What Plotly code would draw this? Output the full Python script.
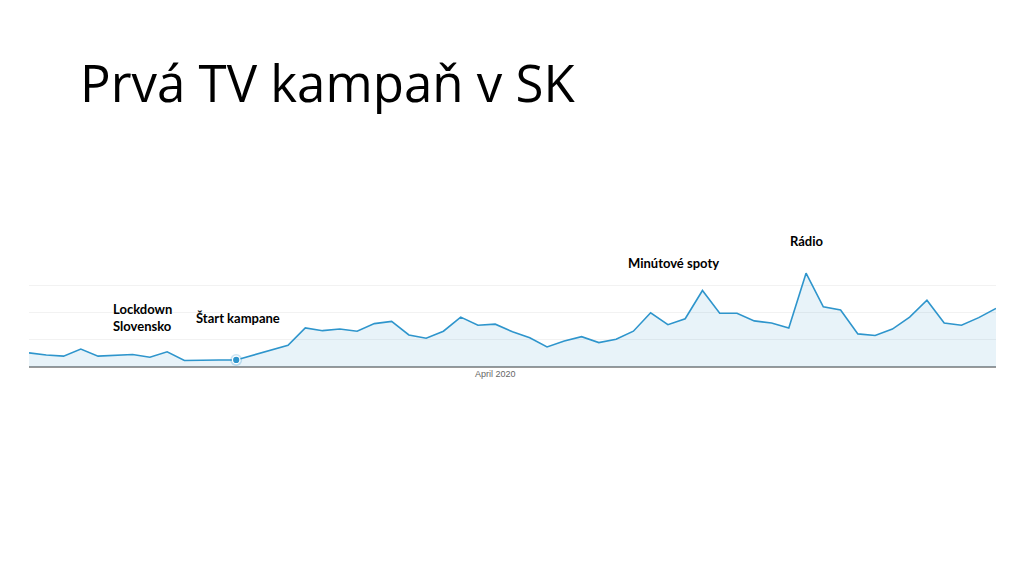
import pandas as pd
import plotly.graph_objects as go

# daily sessions, 5 Mar - 30 Apr 2020
dates = pd.date_range("2020-03-05", "2020-04-30", freq="D")
sessions = [
    26, 22, 20, 33, 20, 21, 23, 18, 28, 12, 13, 13, 13, 22, 32, 40,
    72, 67, 70, 66, 80, 84, 59, 53, 66, 92, 77, 79, 65, 54, 37, 48,
    56, 45, 51, 66, 100, 78, 89, 141, 99, 99, 85, 81, 72, 173, 111, 105,
    61, 58, 70, 92, 123, 81, 77, 91, 108,
]
tick_dates = ["2020-04-01"]
tick_labels = ["April 2020"]
y_max = 201

# notes placed on the chart (date, y value, text)
notes = [
    ("2020-03-09 18:00", 91, "Lockdown<br>Slovensko"),
    ("2020-03-14 13:00", 90, "Štart kampane"),
    ("2020-04-08 14:00", 191, "Minútové spoty"),
    ("2020-04-17 23:00", 233, "Rádio"),
]
campaign_start = "2020-03-17"

line_color = "#2e95cc"

fig = go.Figure()
fig.add_trace(go.Scatter(
    x=dates, y=sessions, mode="lines", fill="tozeroy",
    fillcolor="rgba(46,149,204,0.11)",
    line=dict(color=line_color, width=1.6),
    hoverinfo="x+y", showlegend=False,
))

# highlighted day = campaign start
start_idx = list(dates).index(pd.Timestamp(campaign_start))
fig.add_trace(go.Scatter(
    x=[dates[start_idx]], y=[sessions[start_idx]], mode="markers",
    marker=dict(size=12, color="rgba(46,149,204,0.25)", line=dict(width=0)),
    showlegend=False, hoverinfo="skip",
))
fig.add_trace(go.Scatter(
    x=[dates[start_idx]], y=[sessions[start_idx]], mode="markers",
    marker=dict(size=7.5, color=line_color, line=dict(color="white", width=1.3)),
    showlegend=False, hoverinfo="skip",
))

# y in paper units so notes above the axis range are still drawn
for d, yv, txt in notes:
    fig.add_annotation(
        x=d, y=yv / y_max, yref="paper", text=txt, showarrow=False,
        xanchor="left", yanchor="middle", align="left",
        font=dict(family="Lato", size=13, color="black", weight="bold"),
    )

# the page body has an 8px margin, so the figure is offset to compensate
W, H, OFF = 1024, 576, 8
fig.update_layout(
    width=W, height=H,
    margin=dict(l=29 - OFF, r=W + OFF - 996, t=258 - OFF, b=H + OFF - 367),
    paper_bgcolor="white", plot_bgcolor="white",
    title=dict(
        text="Prvá TV kampaň v SK", x=(80 - OFF) / W, xanchor="left",
        y=1 - (84 - OFF) / H, yanchor="middle",
        font=dict(family="Open Sans", size=51, color="black"),
    ),
)
fig.update_xaxes(
    range=[dates[0], dates[-1]], tickvals=tick_dates, ticktext=tick_labels,
    showgrid=False, showline=False, zeroline=False, ticks="",
    tickfont=dict(family="Arial", size=9, color="#666"),
)
fig.update_yaxes(
    range=[0, y_max], dtick=50, showticklabels=False,
    gridcolor="#f2f2f2", zeroline=True, zerolinecolor="#999", zerolinewidth=1.5,
)

fig.write_html("out.html")
